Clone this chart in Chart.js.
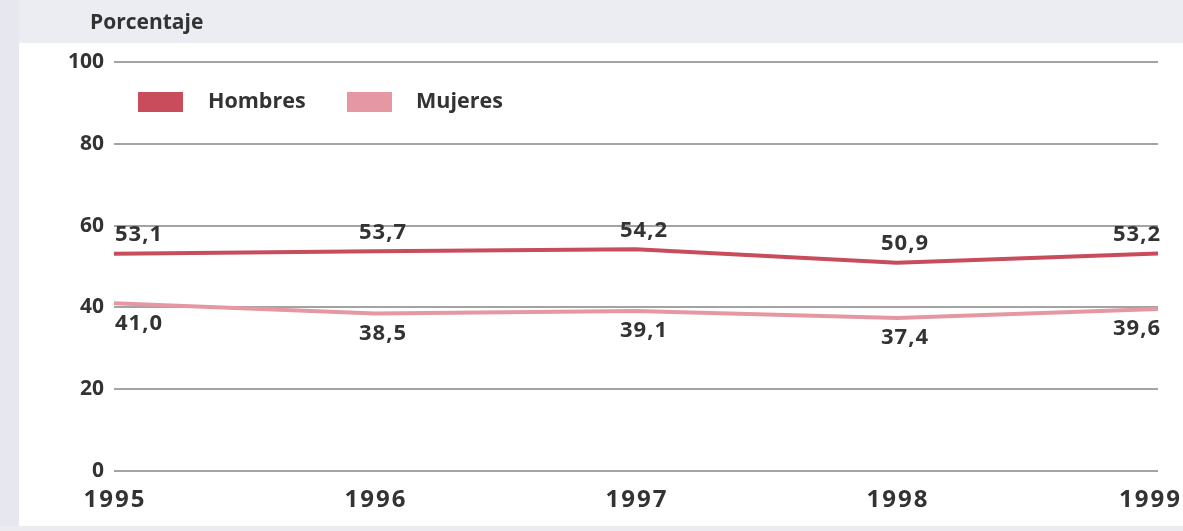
<!DOCTYPE html>
<html>
<head>
<meta charset="utf-8">
<script src="https://cdn.jsdelivr.net/npm/chart.js@4"></script>
<style>
    html, body { margin: 0; padding: 0; background: #fff; }
    .wrap { position: relative; width: 1183px; height: 531px; overflow: hidden; }
    .band-top { position: absolute; left: 0; top: 0; width: 1183px; height: 43px; background: #ecedf2; }
    .band-left { position: absolute; left: 0; top: 0; width: 19px; height: 531px; background: #e6e7ef; }
    .band-bottom { position: absolute; left: 0; top: 526px; width: 1183px; height: 5px; background: #ececf0; }
    canvas { position: absolute; left: 0; top: 0; }
</style>
</head>
<body>
<div class="wrap">
    <div class="band-top"></div>
    <div class="band-left"></div>
    <div class="band-bottom"></div>
    <canvas id="chart" width="1183" height="531"></canvas>
</div>
<script>
const years = ['1995', '1996', '1997', '1998', '1999'];
const hombres = [53.1, 53.7, 54.2, 50.9, 53.2];
const mujeres = [41.0, 38.5, 39.1, 37.4, 39.6];
const yTicks = [0, 20, 40, 60, 80, 100];

const textColor = '#333333';
const fontFamily = '"Open Sans", "DejaVu Sans", sans-serif';

function fmt(v) {
    return v.toFixed(1).replace('.', ',');
}

// title, legend, year labels and value labels
const decorations = {
    id: 'decorations',
    afterDraw(chart) {
        const ctx = chart.ctx;
        const xs = chart.scales.x;
        const ys = chart.scales.y;
        const area = chart.chartArea;
        ctx.save();
        ctx.fillStyle = textColor;

        // title
        ctx.font = 'bold 21px ' + fontFamily;
        ctx.textAlign = 'left';
        ctx.textBaseline = 'middle';
        ctx.fillText('Porcentaje', 90, 23);

        // legend
        const legendPos = [{ box: 138, text: 208 }, { box: 347, text: 416 }];
        ctx.font = 'bold 21.5px ' + fontFamily;
        chart.data.datasets.forEach((ds, i) => {
            ctx.fillStyle = ds.borderColor;
            ctx.fillRect(legendPos[i].box, 92, 45, 20);
            ctx.fillStyle = textColor;
            ctx.fillText(ds.label, legendPos[i].text, 102);
        });

        // year labels
        ctx.font = 'bold 24px ' + fontFamily;
        ctx.letterSpacing = '2px';
        ctx.textAlign = 'center';
        years.forEach((y, i) => {
            let x = xs.getPixelForTick(i);
            const w = ctx.measureText(y).width;
            if (x + w / 2 > 1181) x = 1181 - w / 2;
            ctx.fillText(y, x + 1, 500);
        });

        // value labels
        ctx.font = 'bold 22px ' + fontFamily;
        ctx.letterSpacing = '1px';
        const offsets = [-19, 20];
        chart.data.datasets.forEach((ds, d) => {
            ds.data.forEach((v, i) => {
                let x = xs.getPixelForValue(i);
                const y = ys.getPixelForValue(v) + offsets[d];
                if (i === 0) {
                    ctx.textAlign = 'left';
                    x = area.left + 1;
                } else if (i === ds.data.length - 1) {
                    ctx.textAlign = 'right';
                    x = area.right + 3;
                } else {
                    ctx.textAlign = 'center';
                    x = x + 8;
                }
                ctx.fillText(fmt(v), x, y);
            });
        });
        ctx.restore();
    }
};

new Chart(document.getElementById('chart'), {
    type: 'line',
    data: {
        labels: years,
        datasets: [
            {
                label: 'Hombres',
                data: hombres,
                borderColor: '#c84c5b',
                backgroundColor: '#c84c5b',
                borderWidth: 4,
                pointRadius: 0,
                tension: 0
            },
            {
                label: 'Mujeres',
                data: mujeres,
                borderColor: '#e598a4',
                backgroundColor: '#e598a4',
                borderWidth: 4,
                pointRadius: 0,
                tension: 0
            }
        ]
    },
    options: {
        responsive: false,
        animation: false,
        layout: { padding: { top: 62, right: 25, bottom: 60, left: 0 } },
        plugins: {
            legend: { display: false },
            tooltip: { enabled: false }
        },
        scales: {
            x: {
                display: false
            },
            y: {
                min: 0,
                max: 100,
                afterBuildTicks(scale) {
                    scale.ticks = yTicks.map(v => ({ value: v }));
                },
                afterFit(scale) {
                    scale.width = 114;
                },
                ticks: {
                    color: textColor,
                    font: { family: fontFamily, size: 21, weight: 'bold' },
                    padding: 10
                },
                grid: {
                    color: '#a3a3a3',
                    lineWidth: 2,
                    drawTicks: false
                },
                border: { display: false }
            }
        }
    },
    plugins: [decorations]
});
</script>
</body>
</html>
